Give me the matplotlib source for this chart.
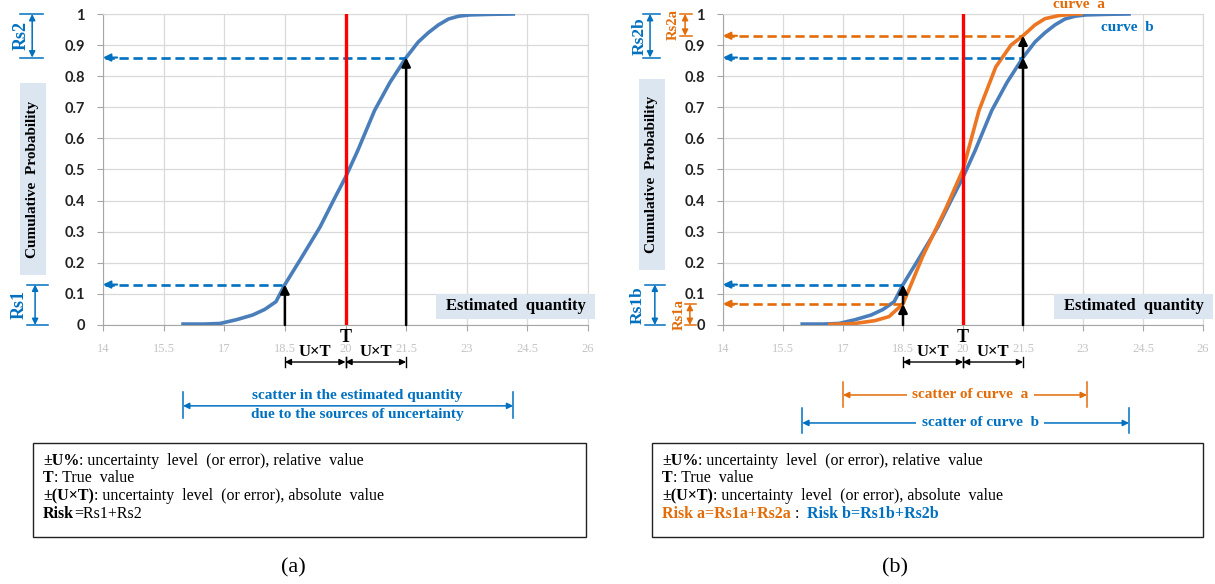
import matplotlib

matplotlib.use("Agg")
import matplotlib.pyplot as plt
import matplotlib.transforms as mtransforms
from matplotlib.patches import Rectangle
import numpy as np

# cumulative distribution of the estimated quantity, read from the simulation output
curve_b_x = [15.98, 16.5, 16.9, 17.0, 17.3, 17.7, 18.0, 18.28, 18.5, 18.88, 19.37, 19.7,
             20.0, 20.3, 20.72, 21.1, 21.5, 21.8, 22.05, 22.3, 22.55, 22.8, 23.07, 23.6, 24.15]
curve_b_y = [0.003, 0.003, 0.005, 0.008, 0.017, 0.032, 0.05, 0.075, 0.13, 0.21, 0.315, 0.4,
             0.475, 0.56, 0.69, 0.78, 0.86, 0.91, 0.94, 0.965, 0.984, 0.993, 0.997, 0.999, 1.0]
curve_a_x = [16.67, 17.0, 17.3, 17.8, 18.15, 18.5, 18.99, 19.59, 20.0, 20.4, 20.82, 21.2,
             21.5, 21.8, 22.05, 22.4, 22.8, 22.95]
curve_a_y = [0.002, 0.003, 0.005, 0.014, 0.027, 0.068, 0.22, 0.38, 0.5, 0.69, 0.83, 0.9,
             0.93, 0.965, 0.985, 0.995, 1.0, 1.0]

true_value = 20.0
lower_limit = 18.5
upper_limit = 21.5

x_ticks = [14, 15.5, 17, 18.5, 20, 21.5, 23, 24.5, 26]
x_tick_labels = ["14", "15.5", "17", "18.5", "20", "21.5", "23", "24.5", "26"]
y_ticks = [0, 0.1, 0.2, 0.3, 0.4, 0.5, 0.6, 0.7, 0.8, 0.9, 1.0]
y_tick_labels = ["0", "0.1", "0.2", "0.3", "0.4", "0.5", "0.6", "0.7", "0.8", "0.9", "1"]

legend_a = [
    [("±U%", "bold", "black"), (": uncertainty  level  (or error), relative  value", "normal", "black")],
    [("T", "bold", "black"), (": True  value", "normal", "black")],
    [("±(U×T)", "bold", "black"), (": uncertainty  level  (or error), absolute  value", "normal", "black")],
    [("Risk", "bold", "black"), ("=Rs1+Rs2", "normal", "black")],
]
legend_b = legend_a[:3] + [
    [("Risk a=Rs1a+Rs2a", "bold", "#E36C09"), (" :  ", "normal", "black"),
     ("Risk b=Rs1b+Rs2b", "bold", "#0070C0")],
]

SERIF = "Liberation Serif"
BLUE_LINE = "#4A7EBB"
ORANGE_LINE = "#EC7622"
BLUE = "#0070C0"
ORANGE = "#E36C09"
BOX_FILL = "#DCE6F1"


def style_axes(ax):
    ax.set_xlim(14, 26)
    ax.set_ylim(0, 1)
    ax.set_xticks(x_ticks, x_tick_labels)
    ax.set_yticks(y_ticks, y_tick_labels)
    ax.grid(True, color="#d9d9d9", lw=0.9)
    ax.set_axisbelow(True)
    for side in ("top", "right"):
        ax.spines[side].set_color("#d9d9d9")
    for side in ("left", "bottom"):
        ax.spines[side].set_color("#a6a6a6")
    ax.tick_params(axis="x", color="#a6a6a6", labelcolor="#c4c4c4", labelsize=9, length=4, pad=9)
    ax.tick_params(axis="y", color="#a6a6a6", labelcolor="#222222", labelsize=10.5, length=4, pad=9)
    for lab in ax.get_xticklabels():
        lab.set_fontfamily(SERIF)
    for lab in ax.get_yticklabels():
        lab.set_fontfamily("Lato")
        lab.set_fontweight("bold")


def dashed_arrow(ax, x_from, y, color):
    ax.plot([14.05, x_from], [y, y], color=color, lw=1.9, ls=(0, (3.5, 1.8)), zorder=4)
    ax.annotate("", xy=(14, y), xytext=(14.35, y),
                arrowprops=dict(arrowstyle="-|>", color=color, lw=1.5, mutation_scale=11,
                                shrinkA=0, shrinkB=0), zorder=4)


def up_arrow(ax, x, y0, y1):
    ax.annotate("", xy=(x, y1), xytext=(x, y0),
                arrowprops=dict(arrowstyle="-|>", color="black", lw=1.8, mutation_scale=13,
                                shrinkA=0, shrinkB=0), zorder=6)


def risk_bracket(ax, xf, y0, y1, cap, label, label_xf, color, size):
    tr = mtransforms.blended_transform_factory(ax.transAxes, ax.transData)
    ax.annotate("", xy=(xf, y1), xycoords=tr, xytext=(xf, y0), textcoords=tr,
                arrowprops=dict(arrowstyle="<|-|>", color=color, lw=1.1, mutation_scale=9,
                                shrinkA=0, shrinkB=0), annotation_clip=False)
    for y in (y0, y1):
        ax.plot(cap, [y, y], color=color, lw=1.1, transform=tr, clip_on=False)
    ax.text(label_xf, (y0 + y1) / 2, label, transform=tr, rotation=90, ha="center", va="center",
            color=color, fontsize=size, fontweight="bold", family=SERIF)


def span_arrow(ax, x0, x1, yf, tick, color, lw=1.1):
    tr = mtransforms.blended_transform_factory(ax.transData, ax.transAxes)
    ax.annotate("", xy=(x1, yf), xycoords=tr, xytext=(x0, yf), textcoords=tr,
                arrowprops=dict(arrowstyle="<|-|>", color=color, lw=lw, mutation_scale=9,
                                shrinkA=0, shrinkB=0), annotation_clip=False)
    for x in (x0, x1):
        ax.plot([x, x], tick, color=color, lw=lw, transform=tr, clip_on=False)
    return tr


def tolerance_marks(ax):
    tr = mtransforms.blended_transform_factory(ax.transData, ax.transAxes)
    ax.text(true_value, -0.04, "T", transform=tr, ha="center", va="center", fontsize=13,
            fontweight="bold", family=SERIF)
    for x0, x1 in ((lower_limit, true_value), (true_value, upper_limit)):
        span_arrow(ax, x0, x1, -0.119, [-0.103, -0.135], "black", lw=1.0)
        ax.text((x0 + x1) / 2, -0.087, "U×T", transform=tr, ha="center", va="center",
                fontsize=12, fontweight="bold", family=SERIF)


def rich_line(ov, x, y, parts, size=11.5):
    prev = None
    for txt, weight, color in parts:
        kw = dict(fontsize=size, fontweight=weight, color=color, family=SERIF,
                  ha="left", va="baseline")
        if prev is None:
            prev = ov.text(x, y, txt, **kw)
        else:
            prev = ov.annotate(txt, xy=(1, y), xycoords=(prev, "data"), **kw)


fig = plt.figure(figsize=(12.15, 5.84), dpi=100)
ax_a = fig.add_axes([103 / 1215, 1 - 325 / 584, 485 / 1215, 311 / 584])
ax_b = fig.add_axes([723 / 1215, 1 - 325 / 584, 480 / 1215, 311 / 584])

# (a) single distribution
style_axes(ax_a)
ax_a.plot(curve_b_x, curve_b_y, color=BLUE_LINE, lw=2.6, zorder=3)
ax_a.plot([true_value, true_value], [0, 1], color="#FF0000", lw=2.4, zorder=5)
rs1 = np.interp(lower_limit, curve_b_x, curve_b_y)
p_hi = np.interp(upper_limit, curve_b_x, curve_b_y)
dashed_arrow(ax_a, lower_limit, rs1, BLUE)
dashed_arrow(ax_a, upper_limit, p_hi, BLUE)
up_arrow(ax_a, lower_limit, 0, rs1)
up_arrow(ax_a, upper_limit, 0, p_hi)
risk_bracket(ax_a, -0.146, p_hi, 1.0, [-0.171, -0.124], "Rs2", -0.169, BLUE, 13)
risk_bracket(ax_a, -0.140, 0.0, rs1, [-0.157, -0.113], "Rs1", -0.173, BLUE, 13)
tolerance_marks(ax_a)
tr_a = span_arrow(ax_a, curve_b_x[0], curve_b_x[-1], -0.26, [-0.215, -0.3], BLUE)
ax_a.text(20.3, -0.228, "scatter in the estimated quantity", transform=tr_a, ha="center",
          va="center", color=BLUE, fontsize=11, fontweight="bold", family=SERIF)
ax_a.text(20.3, -0.288, "due to the sources of uncertainty", transform=tr_a, ha="center",
          va="center", color=BLUE, fontsize=11, fontweight="bold", family=SERIF)

# (b) two distributions with different scatter
style_axes(ax_b)
ax_b.plot(curve_b_x, curve_b_y, color=BLUE_LINE, lw=2.6, zorder=3)
ax_b.plot(curve_a_x, curve_a_y, color=ORANGE_LINE, lw=2.6, zorder=3)
ax_b.plot([true_value, true_value], [0, 1], color="#FF0000", lw=2.4, zorder=5)
rs1a = np.interp(lower_limit, curve_a_x, curve_a_y)
hi_a = np.interp(upper_limit, curve_a_x, curve_a_y)
dashed_arrow(ax_b, lower_limit, rs1a, ORANGE)
dashed_arrow(ax_b, upper_limit, hi_a, ORANGE)
dashed_arrow(ax_b, lower_limit, rs1, BLUE)
dashed_arrow(ax_b, upper_limit, p_hi, BLUE)
up_arrow(ax_b, lower_limit, 0, rs1a)
up_arrow(ax_b, lower_limit, rs1a, rs1)
up_arrow(ax_b, upper_limit, 0, p_hi)
up_arrow(ax_b, upper_limit, p_hi, hi_a)
risk_bracket(ax_b, -0.152, p_hi, 1.0, [-0.167, -0.131], "Rs2b", -0.173, BLUE, 12.5)
risk_bracket(ax_b, -0.079, hi_a, 1.0, [-0.090, -0.065], "Rs2a", -0.104, ORANGE, 10.5)
risk_bracket(ax_b, -0.142, 0.0, rs1, [-0.163, -0.121], "Rs1b", -0.177, BLUE, 12.5)
risk_bracket(ax_b, -0.069, 0.0, rs1a, [-0.079, -0.056], "Rs1a", -0.092, ORANGE, 10.5)
tolerance_marks(ax_b)
ax_b.text(22.9, 1.03, "curve  a", ha="center", va="center", color=ORANGE, fontsize=11,
          fontweight="bold", family=SERIF, clip_on=False)
ax_b.text(24.1, 0.955, "curve  b", ha="center", va="center", color=BLUE, fontsize=11,
          fontweight="bold", family=SERIF)
tr_b = span_arrow(ax_b, 17.0, 23.1, -0.225, [-0.183, -0.264], ORANGE)
ax_b.text(20.18, -0.225, "scatter of curve  a", transform=tr_b, ha="center", va="center",
          color=ORANGE, fontsize=11, fontweight="bold", family=SERIF,
          bbox=dict(facecolor="white", edgecolor="none", pad=4))
span_arrow(ax_b, curve_b_x[0], curve_b_x[-1], -0.315, [-0.267, -0.347], BLUE)
ax_b.text(20.43, -0.315, "scatter of curve  b", transform=tr_b, ha="center", va="center",
          color=BLUE, fontsize=11, fontweight="bold", family=SERIF,
          bbox=dict(facecolor="white", edgecolor="none", pad=4))

# overlay in pixel units for the label boxes, legends and captions
ov = fig.add_axes([0, 0, 1, 1])
ov.set_xlim(0, 1215)
ov.set_ylim(584, 0)
ov.axis("off")

for x0, y0, w, h in ((20, 83, 26, 192), (639, 79, 26, 191)):
    ov.add_patch(Rectangle((x0, y0), w, h, facecolor=BOX_FILL, edgecolor="none"))
    ov.text(x0 + w / 2, y0 + h / 2, "Cumulative  Probability", rotation=90, ha="center",
            va="center", fontsize=11, fontweight="bold", family=SERIF)
for x0 in (436, 1054):
    ov.add_patch(Rectangle((x0, 294), 159, 25, facecolor=BOX_FILL, edgecolor="none"))
    ov.text(x0 + 80, 306.5, "Estimated  quantity", ha="center", va="center", fontsize=12,
            fontweight="bold", family=SERIF)

for x0, x1, lines in ((33, 586, legend_a), (652, 1203, legend_b)):
    ov.add_patch(Rectangle((x0, 443), x1 - x0, 94, facecolor="white", edgecolor="#222222", lw=1.0))
    for i, parts in enumerate(lines):
        rich_line(ov, x0 + 10, 465 + 17.5 * i, parts)

ov.text(293, 568, "(a)", ha="center", va="center", fontsize=16, family=SERIF)
ov.text(895, 568, "(b)", ha="center", va="center", fontsize=16, family=SERIF)

fig.savefig("out.png", dpi=100)
